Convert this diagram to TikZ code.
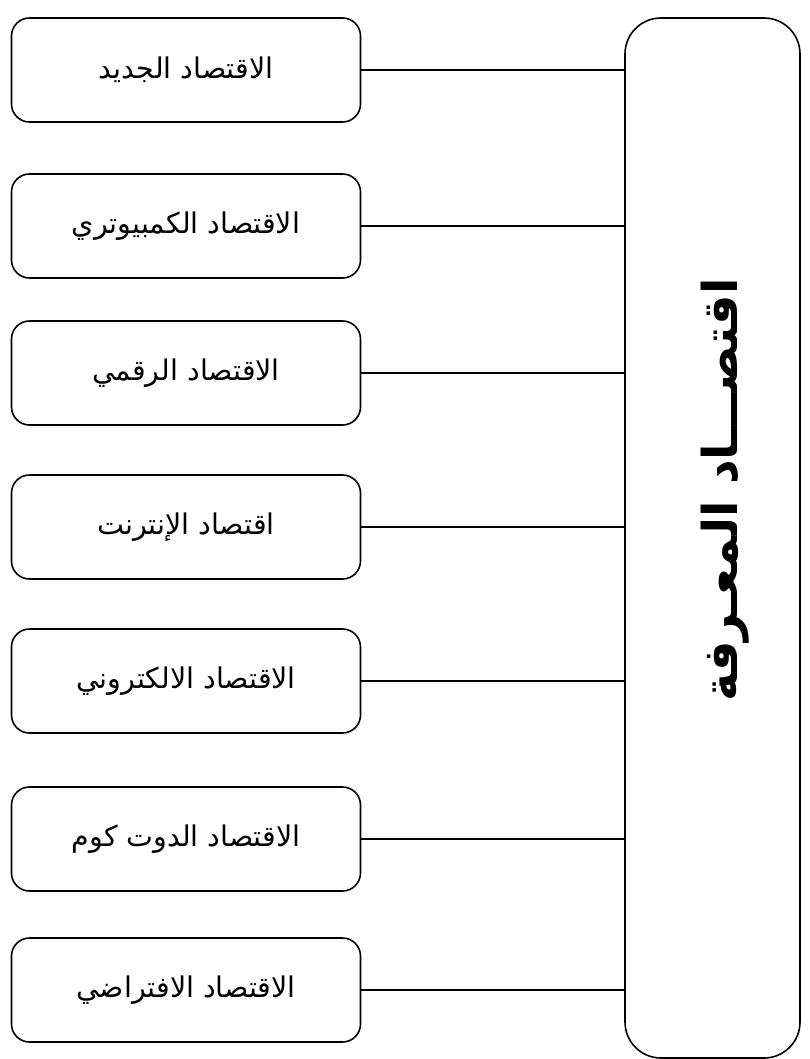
\documentclass[tikz,border=0pt]{standalone}
\usepackage{fontspec}
\TeXXeTstate=1
\newfontfamily\arabicfont[Script=Arabic]{DejaVu Sans}
\newcommand{\ar}[1]{{\arabicfont\beginR #1\endR}}
\tikzset{
  item/.style={draw, line width=1.6pt, rounded corners=18pt, minimum width=349pt,
    minimum height=104pt, inner sep=0pt, font=\fontsize{28.5}{34}\selectfont},
  hub/.style={draw, line width=1.6pt, rounded corners=36pt, minimum width=175pt,
    minimum height=1040pt, inner sep=0pt},
  link/.style={line width=1.5pt}
}
\begin{document}
\begin{tikzpicture}[x=1pt,y=-1pt]
\useasboundingbox (0,0) rectangle (810,1059);
% central concept on the right
\node[hub] (hub) at (712.5,538) {};
\node[rotate=90, font=\fontsize{48}{58}\selectfont\bfseries] (title) at (725,490)
  {\ar{اقتصـــاد المعـرفة}};
% the seven names
\node[item] (n1) at (186,70)  {\ar{الاقتصاد الجديد}};
\node[item] (n2) at (186,226) {\ar{الاقتصاد الكمبيوتري}};
\node[item] (n3) at (186,373) {\ar{الاقتصاد الرقمي}};
\node[item] (n4) at (186,527) {\ar{اقتصاد الإنترنت}};
\node[item] (n5) at (186,681) {\ar{الاقتصاد الالكتروني}};
\node[item] (n6) at (186,839) {\ar{الاقتصاد الدوت كوم}};
\node[item] (n7) at (186,990) {\ar{الاقتصاد الافتراضي}};
% connectors into the hub
\foreach \n in {n1,n2,n3,n4,n5,n6,n7}
  \draw[link] (\n.east) -- (\n.east -| hub.west);
\end{tikzpicture}
\end{document}
